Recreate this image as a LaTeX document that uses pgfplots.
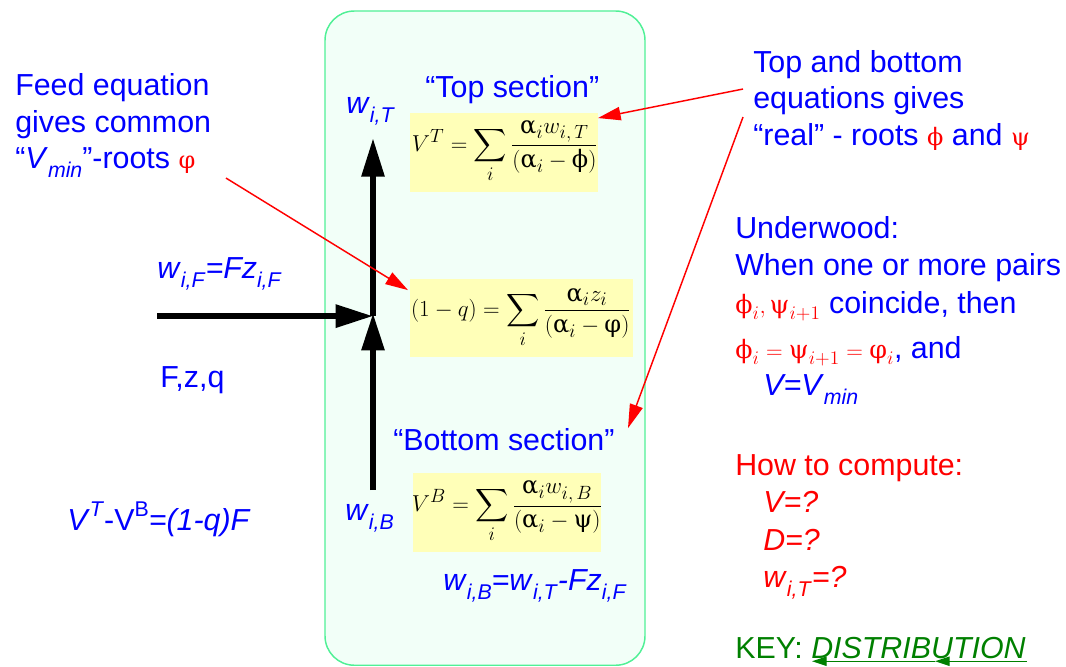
\documentclass[border=0pt]{standalone}
\usepackage{amsmath}
\usepackage{fontspec}
\setmainfont{Liberation Sans}
\newfontfamily\gr{DejaVu Serif}
\usepackage{pgfplots}
\pgfplotsset{compat=1.18}
\usetikzlibrary{arrows.meta}
\DeclareMathSizes{18}{18}{14}{11}
\DeclareMathSizes{19}{19}{14}{11}
\definecolor{boxfill}{RGB}{242,255,248}
\definecolor{boxline}{RGB}{80,240,150}
\definecolor{eqfill}{RGB}{255,255,184}
\definecolor{keygreen}{RGB}{0,128,0}
\newcommand\sub[1]{\raisebox{-0.3em}{\fontsize{16}{16}\selectfont #1}}
\newcommand\sups[1]{\raisebox{0.45em}{\fontsize{16}{16}\selectfont #1}}
\newcommand\ga{\text{\gr\upshape α}}
\newcommand\gphi{\text{\gr\upshape ϕ}}
\newcommand\gvphi{\text{\gr\upshape φ}}
\newcommand\gpsi{\text{\gr\upshape ψ}}
\tikzset{
  txt/.style={anchor=base west, inner sep=0pt, font=\fontsize{22.8}{27}\selectfont, text=blue},
  eq/.style={anchor=center, inner sep=0pt, font=\fontsize{18}{21}\selectfont, text=black},
}
\begin{document}
\begin{tikzpicture}
\begin{axis}[width=800pt,height=500pt,scale only axis,
  xmin=0,xmax=1066,ymin=0,ymax=666,y dir=reverse,
  axis lines=none, clip=false]
\path (axis cs:0,0) rectangle (axis cs:1066,666);
% column box
\draw[boxline, fill=boxfill, line width=1.1pt, rounded corners=22pt]
  (axis cs:325,11) rectangle (axis cs:645,665);
% equation boxes
\fill[eqfill] (axis cs:410,113) rectangle (axis cs:598,192);
\fill[eqfill] (axis cs:410,279) rectangle (axis cs:633,357);
\fill[eqfill] (axis cs:413,473) rectangle (axis cs:601,552);
% black arrows
\addplot[black, line width=4.5pt, -{Triangle[length=28pt,width=16.5pt]}]
  coordinates {(157,316) (373,316)};
\addplot[black, line width=4.5pt, -{Triangle[length=29pt,width=16.5pt]}]
  coordinates {(373,316) (373,138)};
\addplot[black, line width=4.5pt, -{Triangle[length=28pt,width=16.5pt]}]
  coordinates {(373,490) (373,313)};
% red arrows
\addplot[red, line width=1.1pt, -{Triangle[length=17pt,width=10pt]}]
  coordinates {(226,178) (408,290)};
\addplot[red, line width=1.1pt, -{Triangle[length=17pt,width=10pt]}]
  coordinates {(743,89) (598,118)};
\addplot[red, line width=1.1pt, -{Triangle[length=18pt,width=10pt]}]
  coordinates {(743,117) (628,428)};
% green underline arrows
\addplot[keygreen, line width=1pt, -{Triangle[length=11pt,width=7pt]}]
  coordinates {(1027,661) (935,661)};
\addplot[keygreen, line width=1pt, -{Triangle[length=11pt,width=7pt]}]
  coordinates {(935,661) (812,661)};
% equations
\node[eq] at (axis cs:505,152) {$\displaystyle V^{T} = \sum_i \frac{\ga_i w_{i,\,T}}{(\ga_i - \gphi)}$};
\node[eq] at (axis cs:521,318) {$\displaystyle (1-q) = \sum_i \frac{\ga_i z_i}{(\ga_i - \gvphi)}$};
\node[eq] at (axis cs:507,512) {$\displaystyle V^{B} = \sum_i \frac{\ga_i w_{i,\,B}}{(\ga_i - \gpsi)}$};
% left texts
\node[txt] at (axis cs:15,95) {Feed equation};
\node[txt] at (axis cs:15,132) {gives common};
\node[txt] at (axis cs:15,168) {“\textit{V}\sub{\textit{min}}”-roots {\color{red}\fontsize{18}{18}\selectfont\gr φ}};
\node[txt] at (axis cs:157,278) {\textit{w}\sub{\textit{i,F}}\textit{=Fz}\sub{\textit{i,F}}};
\node[txt] at (axis cs:160,387) {F,z,q};
\node[txt] at (axis cs:67,530) {\textit{V}\sups{\textit{T}}-V\sups{B}\textit{=(1-q)F}};
% column texts
\node[txt] at (axis cs:346,113) {\textit{w}\sub{\textit{i,T}}};
\node[txt] at (axis cs:425,97) {“Top section”};
\node[txt] at (axis cs:393,450) {“Bottom section”};
\node[txt] at (axis cs:345,520) {\textit{w}\sub{\textit{i,B}}};
\node[txt] at (axis cs:443,590) {\textit{w}\sub{\textit{i,B}}\textit{=w}\sub{\textit{i,T}}\textit{-Fz}\sub{\textit{i,F}}};
% right texts
\node[txt] at (axis cs:753,72) {Top and bottom};
\node[txt] at (axis cs:753,108) {equations gives};
\node[txt] at (axis cs:753,145) {“real” - roots {\color{red}\fontsize{18}{18}\selectfont\gr ϕ} and {\color{red}\fontsize{18}{18}\selectfont\gr ψ}};
\node[txt] at (axis cs:735,238) {Underwood:};
\node[txt] at (axis cs:735,275) {When one or more pairs};
\node[txt] at (axis cs:735,313) {{\color{red}\fontsize{19}{21}\selectfont$\gphi_i, \gpsi_{i+1}$}\ coincide, then};
\node[txt] at (axis cs:735,358) {{\color{red}\fontsize{19}{21}\selectfont$\gphi_i = \gpsi_{i+1} = \gvphi_i$}, and};
\node[txt] at (axis cs:763,395) {\textit{V=V}\sub{\textit{min}}};
\node[txt, text=red] at (axis cs:735,475) {How to compute:};
\node[txt, text=red] at (axis cs:763,512) {\textit{V=?}};
\node[txt, text=red] at (axis cs:763,550) {\textit{D=?}};
\node[txt, text=red] at (axis cs:763,587) {\textit{w}\sub{\textit{i,T}}\textit{=?}};
\node[txt, text=keygreen] at (axis cs:735,658) {KEY: \textit{DISTRIBUTION}};
\end{axis}
\end{tikzpicture}
\end{document}
